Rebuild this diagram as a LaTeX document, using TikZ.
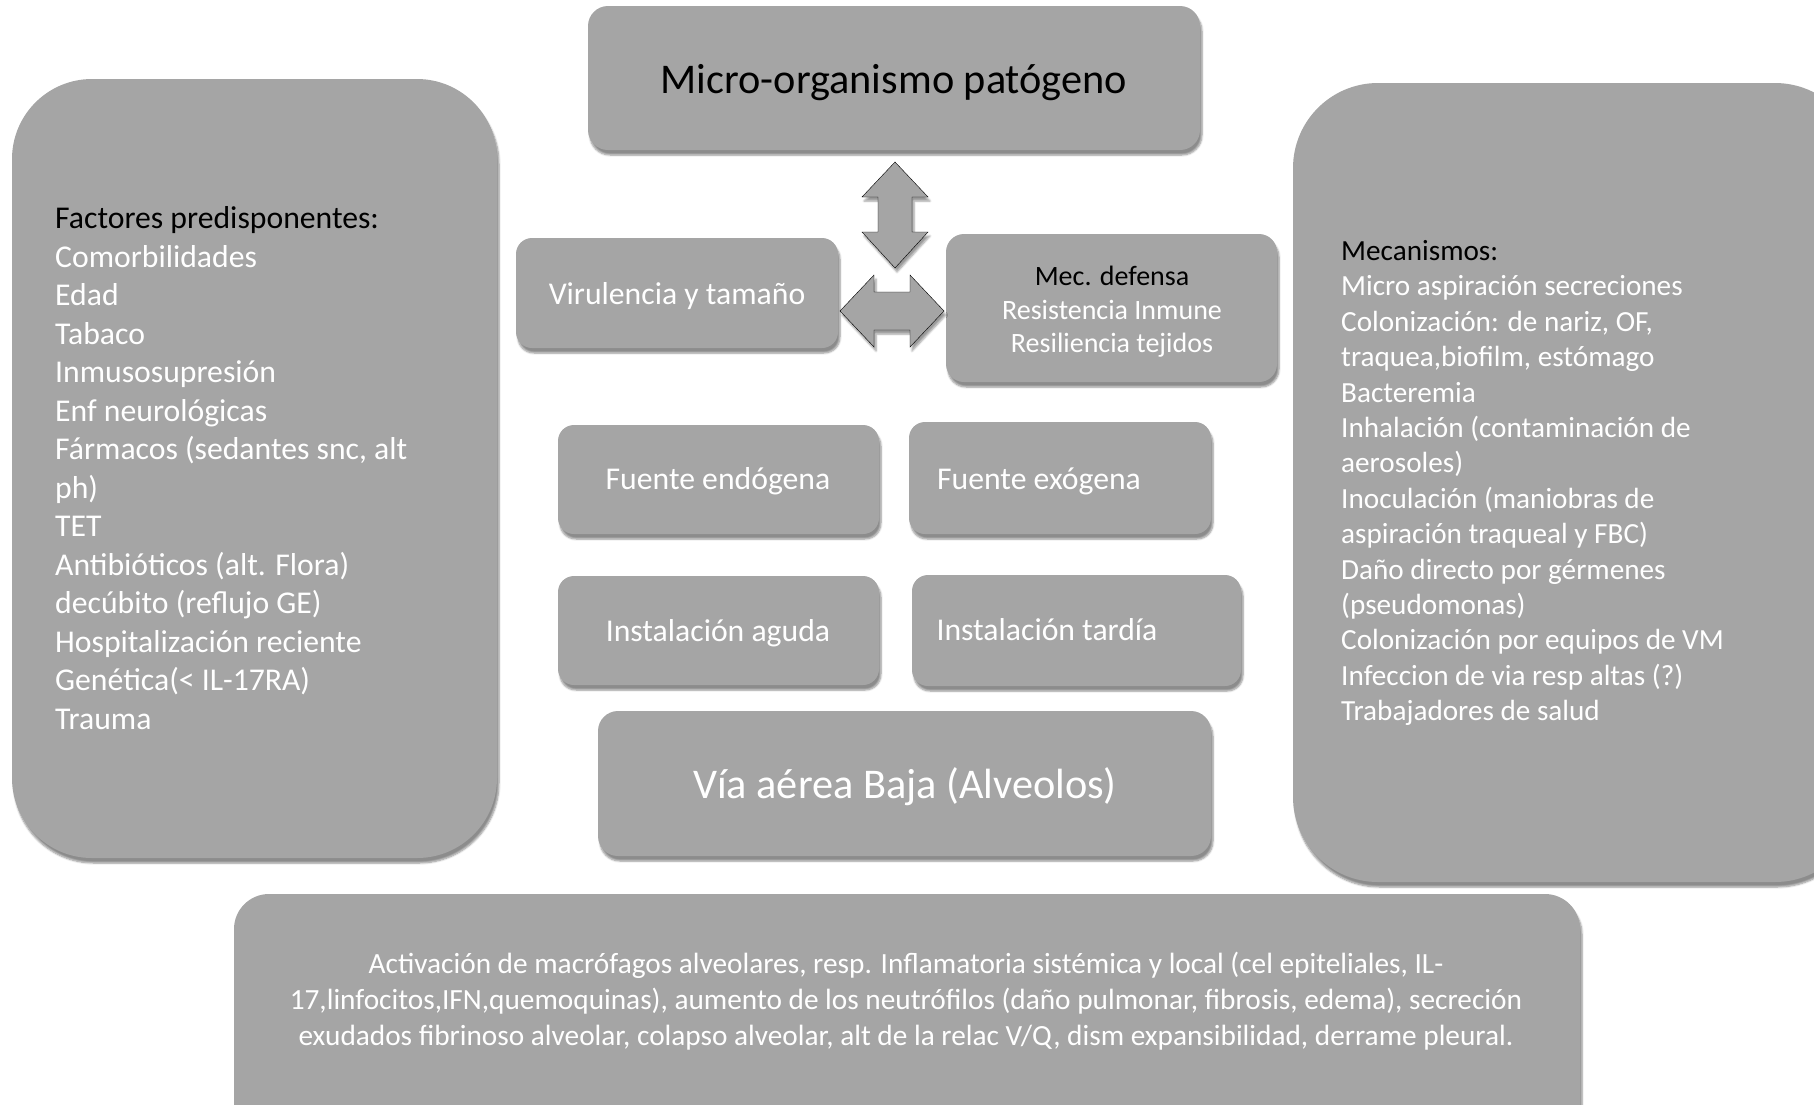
\documentclass[tikz,border=0pt]{standalone}
\usepackage{fontspec}
\setmainfont{Carlito}
\usetikzlibrary{shadows.blur}
\definecolor{boxgray}{HTML}{A5A5A5}
\tikzset{
  box/.style={fill=boxgray, rounded corners=#1, inner sep=0pt,
    blur shadow={shadow xshift=2pt, shadow yshift=-5pt, shadow blur steps=6, shadow opacity=45}},
  box/.default=16pt,
  wtext/.style={text=white, inner sep=0pt, font=\fontsize{31.7}{38.5}\selectfont},
  blockarrow/.style={fill=boxgray,
    blur shadow={shadow xshift=2pt, shadow yshift=-4pt, shadow blur steps=5, shadow opacity=40}}
}
\begin{document}
\begin{tikzpicture}[x=1pt,y=-1pt]
\useasboundingbox (0,0) rectangle (1814,1104);
\clip (0,0) rectangle (1814,1104);

% big side boxes
\node[box=80pt, minimum width=485pt, minimum height=779pt] (left) at (254.5,468.5) {};
\node[box=85pt, minimum width=567pt, minimum height=799pt] (right) at (1576.5,482.5) {};

% top box
\node[box=20pt, minimum width=612pt, minimum height=144pt] (micro) at (894,78) {};
\node[inner sep=0pt, font=\fontsize{42.3}{50}\selectfont] (microt) at (894,83) {Micro-organismo patógeno};

% middle row
\node[box, minimum width=322pt, minimum height=110pt] (vir) at (677,293) {};
\node[wtext] (virt) at (677,296.5) {Virulencia y tamaño};
\node[box=18pt, minimum width=331pt, minimum height=148pt] (mec) at (1111.5,308) {};
\node[align=center, inner sep=0pt, font=\fontsize{28}{33.5}\selectfont] (mect) at (1112,312)
  {\textcolor{black}{Mec. defensa}\\ \textcolor{white}{Resistencia Inmune}\\ \textcolor{white}{Resiliencia tejidos}};

% block arrows
\draw[blockarrow] (895,162) -- (928,197) -- (912,197) -- (912,232) -- (928,232) -- (895,268)
  -- (862,232) -- (878,232) -- (878,197) -- (862,197) -- cycle;
\draw[blockarrow] (840,311) -- (874,275) -- (874,292) -- (910,292) -- (910,275) -- (944,311)
  -- (910,347) -- (910,330) -- (874,330) -- (874,347) -- cycle;

% sources
\node[box, minimum width=321pt, minimum height=109pt] (endo) at (718.5,479.5) {};
\node[wtext] (endot) at (718,481) {Fuente endógena};
\node[box, minimum width=302pt, minimum height=112pt] (exo) at (1060,478) {};
\node[wtext] (exot) at (1039,481) {Fuente exógena};

% onset
\node[box, minimum width=321pt, minimum height=109pt] (aguda) at (718.5,630.5) {};
\node[wtext] (agudat) at (718,633) {Instalación aguda};
\node[box, minimum width=329pt, minimum height=111pt] (tardia) at (1076.5,630.5) {};
\node[wtext] (tardiat) at (1047,630) {Instalación tardía};

% lower airway
\node[box=20pt, minimum width=613pt, minimum height=145pt] (via) at (904.5,783.5) {};
\node[inner sep=0pt, text=white, font=\fontsize{42.3}{50}\selectfont] (viat) at (905,787) {Vía aérea Baja (Alveolos)};

% bottom box
\node[box=35pt, minimum width=1346pt, minimum height=246pt] (bottom) at (907,1017) {};
\node[align=center, text=white, inner sep=0pt, font=\fontsize{29.3}{36}\selectfont] (bottomt) at (906,1001)
  {Activación de macrófagos alveolares, resp. Inflamatoria sistémica y local (cel epiteliales, IL-\\
   17,linfocitos,IFN,quemoquinas), aumento de los neutrófilos (daño pulmonar, fibrosis, edema), secreción\\
   exudados fibrinoso alveolar, colapso alveolar, alt de la relac V/Q, dism expansibilidad, derrame pleural.};

% left text
\node[anchor=west, align=left, inner sep=0pt, text=white, font=\fontsize{31.7}{38.5}\selectfont] (leftt) at (55,468)
  {\textcolor{black}{Factores predisponentes:}\\
   Comorbilidades\\ Edad\\ Tabaco\\ Inmusosupresión\\ Enf neurológicas\\
   Fármacos (sedantes snc, alt\\ ph)\\ TET\\ Antibióticos (alt. Flora)\\
   decúbito (reflujo GE)\\ Hospitalización reciente\\ Genética(< IL-17RA)\\ Trauma};

% right text
\node[anchor=west, align=left, inner sep=0pt, text=white, font=\fontsize{29.2}{35.4}\selectfont] (rightt) at (1341,483)
  {\textcolor{black}{Mecanismos:}\\
   Micro aspiración secreciones\\ Colonización: de nariz, OF,\\ traquea,biofilm, estómago\\
   Bacteremia\\ Inhalación (contaminación de\\ aerosoles)\\ Inoculación (maniobras de\\
   aspiración traqueal y FBC)\\ Daño directo por gérmenes\\ (pseudomonas)\\
   Colonización por equipos de VM\\ Infeccion de via resp altas (?)\\ Trabajadores de salud};
\end{tikzpicture}
\end{document}
